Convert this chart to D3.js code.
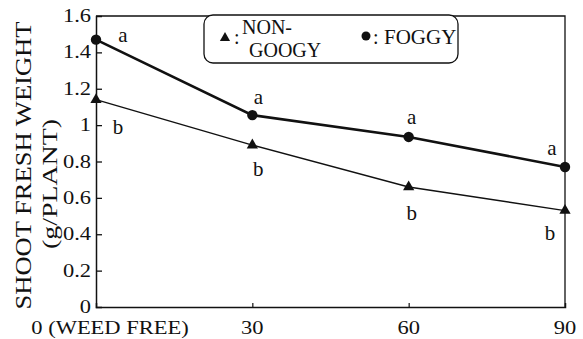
<!DOCTYPE html>
<html><head><meta charset="utf-8">
<script src="https://cdn.jsdelivr.net/npm/d3@7"></script>
<style>
html,body{margin:0;padding:0;background:#fff;}
svg{display:block;}
svg text{font-family:"Liberation Serif","Times New Roman","DejaVu Serif",serif !important;fill:#111;}
</style></head>
<body>
<svg id="chart" width="583" height="339"></svg>
<script>
// ---- data ----
const xValues = [0, 30, 60, 90];
const xTickLabels = ["0 (WEED FREE)", "30", "60", "90"];
const yTicks = [0, 0.2, 0.4, 0.6, 0.8, 1, 1.2, 1.4, 1.6];
const foggy = [1.47, 1.055, 0.935, 0.77];
const nonFoggy = [1.14, 0.89, 0.66, 0.53];
const foggyLetters = ["a", "a", "a", "a"];
const nonFoggyLetters = ["b", "b", "b", "b"];
const yTitle = "SHOOT FRESH WEIGHT";
const yUnit = "(g/PLANT)";
const legendNon = ["NON-", "GOOGY"];
const legendFog = "FOGGY";

// ---- layout ----
const svg = d3.select("#chart");
const pL = 96, pR = 565, pT = 16, pB = 307;
const x = d3.scaleLinear().domain([0, 90]).range([pL, pR]);
const y = d3.scaleLinear().domain([0, 1.6]).range([pB, pT]);
const ink = "#111";
const serif = "'Liberation Serif','Times New Roman','DejaVu Serif',serif";

// frame (top & right borders)
svg.append("path")
  .attr("d", `M${pL},${pT}H${pR}V${pB}`)
  .attr("fill", "none").attr("stroke", ink).attr("stroke-width", 1.3);

// y axis, ticks inward
const yAxis = svg.append("g").attr("transform", `translate(${pL},0)`)
  .call(d3.axisRight(y).tickValues(yTicks).tickSize(6).tickFormat(""));
yAxis.select(".domain").attr("stroke", ink).attr("stroke-width", 1.5);
yAxis.selectAll(".tick line").attr("stroke", ink).attr("stroke-width", 1.3);
yAxis.selectAll(".tick").filter(d => d === 0 || d === 1.6).select("line").remove();

const T = svg.append("g").attr("font-family", serif);

// y tick labels (stretched serif)
T.append("g").selectAll("text").data(yTicks).join("text")
  .attr("transform", d => `translate(${pL - 5},${y(d) + 6}) scale(1.25,1)`)
  .attr("text-anchor", "end").attr("font-size", 18)
  .text(d => d3.format("~g")(d));

// x axis, ticks inward
const xAxis = svg.append("g").attr("transform", `translate(0,${pB})`)
  .call(d3.axisTop(x).tickValues(xValues).tickSize(4).tickFormat(""));
xAxis.select(".domain").attr("stroke", ink).attr("stroke-width", 1.5);
xAxis.selectAll(".tick line").attr("stroke", ink).attr("stroke-width", 1.2);
xAxis.selectAll(".tick").filter(d => d === 0 || d === 90).select("line").remove();

T.append("g").selectAll("text").data(xValues).join("text")
  .attr("transform", (d, i) => `translate(${i === 0 ? x(d) + 14 : x(d)},334) scale(1.25,1)`)
  .attr("text-anchor", "middle").attr("font-size", 18)
  .text((d, i) => xTickLabels[i]);

// y titles
T.append("text")
  .attr("transform", `translate(31,${(pT + pB) / 2 + 4}) rotate(-90)`)
  .attr("text-anchor", "middle").attr("font-size", 24)
  .attr("textLength", 288).attr("lengthAdjust", "spacingAndGlyphs")
  .text(yTitle);
T.append("text")
  .attr("transform", `translate(57,184) rotate(-90)`)
  .attr("text-anchor", "middle").attr("font-size", 22)
  .attr("textLength", 130).attr("lengthAdjust", "spacingAndGlyphs")
  .text(yUnit);

// lines
const line = d3.line().x((d, i) => x(xValues[i])).y(d => y(d));
svg.append("path").datum(nonFoggy).attr("d", line)
  .attr("fill", "none").attr("stroke", ink).attr("stroke-width", 1.4);
svg.append("path").datum(foggy).attr("d", line)
  .attr("fill", "none").attr("stroke", ink).attr("stroke-width", 2.6);

// markers
const tri = d3.symbol().type(d3.symbolTriangle).size(55);
svg.append("g").selectAll("path").data(nonFoggy).join("path")
  .attr("d", tri).attr("fill", ink)
  .attr("transform", (d, i) => `translate(${x(xValues[i])},${y(d)})`);
svg.append("g").selectAll("circle").data(foggy).join("circle")
  .attr("cx", (d, i) => x(xValues[i])).attr("cy", d => y(d)).attr("r", 5.2).attr("fill", ink);

// significance letters
const aOff = [[27, 2], [6, -11], [3, -13], [-13, -12]];
const bOff = [[22, 34], [6, 31], [3, 33], [-15, 29]];
T.append("g").selectAll("text").data(foggy).join("text")
  .attr("x", (d, i) => x(xValues[i]) + aOff[i][0]).attr("y", (d, i) => y(d) + aOff[i][1])
  .attr("text-anchor", "middle").attr("font-size", 21)
  .text((d, i) => foggyLetters[i]);
T.append("g").selectAll("text").data(nonFoggy).join("text")
  .attr("x", (d, i) => x(xValues[i]) + bOff[i][0]).attr("y", (d, i) => y(d) + bOff[i][1])
  .attr("text-anchor", "middle").attr("font-size", 21)
  .text((d, i) => nonFoggyLetters[i]);

// legend
const lg = svg.append("g").attr("font-family", serif);
lg.append("rect").attr("x", 204).attr("y", 15).attr("width", 254).attr("height", 48)
  .attr("rx", 9).attr("fill", "#fff").attr("stroke", ink).attr("stroke-width", 1.3);
lg.append("path").attr("d", d3.symbol().type(d3.symbolTriangle).size(45))
  .attr("transform", "translate(225,38)").attr("fill", ink);
lg.append("text").attr("x", 234).attr("y", 44).attr("font-size", 20).text(":");
lg.append("text").attr("x", 242).attr("y", 34).attr("font-size", 20).text(legendNon[0]);
lg.append("text").attr("x", 249).attr("y", 57).attr("font-size", 20).text(legendNon[1]);
lg.append("circle").attr("cx", 366).attr("cy", 36).attr("r", 4.5).attr("fill", ink);
lg.append("text").attr("x", 373).attr("y", 44).attr("font-size", 20).text(":");
lg.append("text").attr("x", 384).attr("y", 44).attr("font-size", 21).text(legendFog);
</script>
</body></html>
